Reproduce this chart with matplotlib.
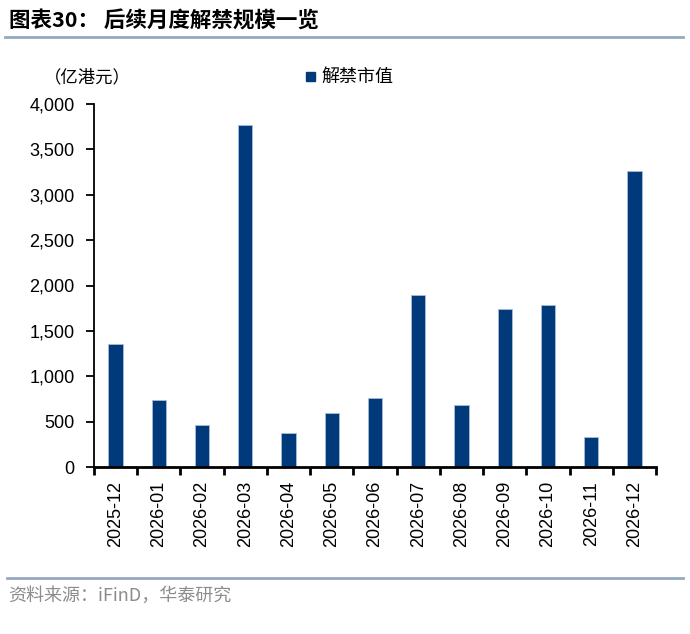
import matplotlib
matplotlib.use("Agg")
import matplotlib.pyplot as plt
from matplotlib.lines import Line2D
from matplotlib.patches import Rectangle
import numpy as np

plt.rcParams['font.family'] = ['Liberation Sans', 'Noto Sans CJK SC', 'DejaVu Sans']

categories = ["2025-12", "2026-01", "2026-02", "2026-03", "2026-04", "2026-05", "2026-06",
              "2026-07", "2026-08", "2026-09", "2026-10", "2026-11", "2026-12"]
values = [1360, 740, 460, 3770, 370, 600, 760, 1900, 680, 1740, 1780, 330, 3260]
yticks = [0, 500, 1000, 1500, 2000, 2500, 3000, 3500, 4000]
series_name = "解禁市值"
unit_label = "（亿港元）"
title = "图表30： 后续月度解禁规模一览"
source = "资料来源：iFinD，华泰研究"

bar_color = "#003A7A"
W, H = 690, 634
fig = plt.figure(figsize=(W / 100, H / 100), dpi=100)
ax = fig.add_axes([94 / W, 167 / H, (656 - 94) / W, (467 - 104) / H])

x = np.arange(len(categories))
ax.bar(x, values, width=0.33, color=bar_color, edgecolor="#A9BCD6", linewidth=0.6)
ax.set_xlim(-0.5, len(categories) - 0.5)
ax.set_ylim(0, 4000)
ax.set_yticks(yticks)
ax.set_yticklabels([f"{v:,}" for v in yticks], fontsize=13)

ax.set_xticks(x)
ax.set_xticklabels(categories, rotation=90, fontsize=13)
ax.tick_params(axis='x', which='major', length=0, pad=10)
ax.set_xticks(np.arange(-0.5, len(categories), 1), minor=True)
ax.tick_params(axis='x', which='minor', length=6, width=2, direction='out', color='black')
ax.tick_params(axis='y', length=6, width=1.3, direction='out', pad=8)

for s in ['top', 'right']:
    ax.spines[s].set_visible(False)
ax.spines['left'].set_linewidth(1.3)
ax.spines['bottom'].set_linewidth(2)

cjk = ['Noto Sans CJK SC', 'DejaVu Sans']
# title & lines
fig.text(9 / W, 1 - 21 / H, title, fontsize=15.5, fontweight='bold', va='center', ha='left', family=cjk)
fig.add_artist(Line2D([5 / W, 683 / W], [1 - 37 / H, 1 - 37 / H], color="#94A9C2", linewidth=2))
fig.add_artist(Line2D([7 / W, 683 / W], [1 - 578 / H, 1 - 578 / H], color="#94A9C2", linewidth=2))
fig.text(8 / W, 1 - 596 / H, source, fontsize=13, color="#8C8C8C", va='center', ha='left', family=cjk)

# unit label & legend
fig.text(44 / W, 1 - 77 / H, unit_label, fontsize=12.5, va='center', ha='left', family=cjk)
fig.add_artist(Rectangle((306 / W, 1 - 81 / H), 9 / W, 9 / H, color=bar_color, transform=fig.transFigure))
fig.text(321 / W, 1 - 77 / H, series_name, fontsize=13, va='center', ha='left', family=cjk)

fig.savefig("out.png", dpi=100)
